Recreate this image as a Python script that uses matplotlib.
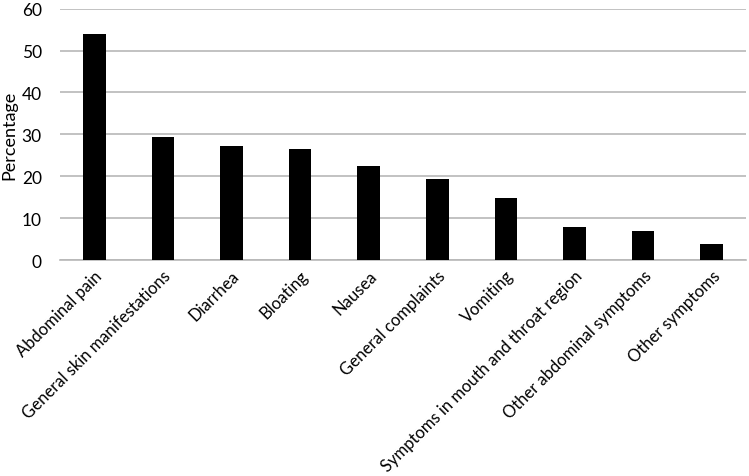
import numpy as np
import matplotlib
matplotlib.use("Agg")
import matplotlib.pyplot as plt

categories = ['Abdominal pain', 'General skin manifestations', 'Diarrhea', 'Bloating',
              'Nausea', 'General complaints', 'Vomiting',
              'Symptoms in mouth and throat region', 'Other abdominal symptoms',
              'Other symptoms']
percentages = [53.9, 29.4, 27.2, 26.6, 22.5, 19.3, 14.8, 7.9, 7.0, 4.0]
yticks = [0, 10, 20, 30, 40, 50, 60]

plt.rcParams['font.family'] = ['Lato', 'DejaVu Sans']

fig = plt.figure(figsize=(7.49, 4.77), dpi=100)
ax = fig.add_axes([0.080, 0.452, 0.916, 0.528])

x = np.arange(len(categories))
ax.bar(x, percentages, width=0.33, color='black', zorder=3)

ax.set_xlim(-0.5, len(categories) - 0.5)
ax.set_ylim(0, 60)
ax.set_yticks(yticks)
ax.set_xticks(x)
ax.set_xticklabels(categories, rotation=45, ha='right', rotation_mode='anchor', fontsize=12)
ax.tick_params(axis='y', labelsize=12.5, length=0, pad=13)
ax.tick_params(axis='x', length=0, pad=5)
ax.set_ylabel('Percentage', fontsize=13, labelpad=3)

ax.grid(axis='y', color='#b8b8b8', linewidth=1.2, zorder=0)
for s in ['top', 'right', 'left']:
    ax.spines[s].set_visible(False)
ax.spines['bottom'].set_color('#b8b8b8')
ax.spines['bottom'].set_linewidth(1.2)

fig.savefig('out.png', dpi=100)
